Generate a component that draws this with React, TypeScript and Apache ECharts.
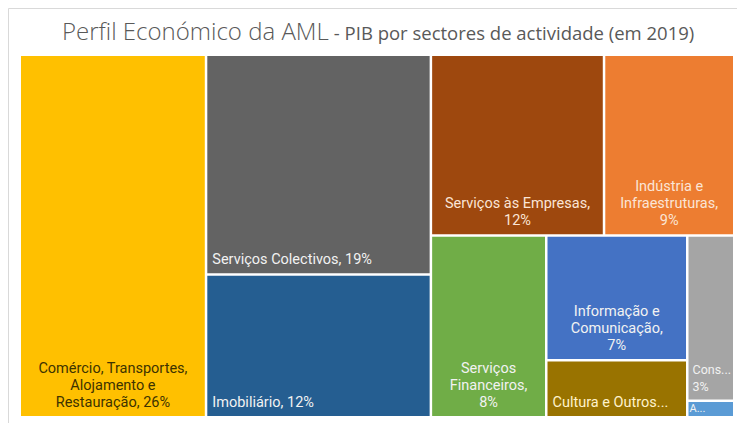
import React, { useEffect, useRef } from "react";
import * as echarts from "echarts";

// Sector names (full) and the labels as displayed in the chart
const sectorNames = [
  "Comércio, Transportes, Alojamento e Restauração",
  "Serviços Colectivos",
  "Imobiliário",
  "Serviços às Empresas",
  "Indústria e Infraestruturas",
  "Serviços Financeiros",
  "Informação e Comunicação",
  "Construção",
  "Cultura e Outros Serviços",
  "Agricultura",
];
const sectorLabels = [
  "Comércio, Transportes,\nAlojamento e\nRestauração, 26%",
  "Serviços Colectivos, 19%",
  "Imobiliário, 12%",
  "Serviços às Empresas,\n12%",
  "Indústria e\nInfraestruturas,\n9%",
  "Serviços\nFinanceiros,\n8%",
  "Informação e\nComunicação,\n7%",
  "Cons...\n3%",
  "Cultura e Outros...",
  "A...",
];
// Share of GDP (%)
const sectorValues = [26.1, 19.1, 12.4, 12.1, 9.1, 8.1, 6.8, 3.0, 3.1, 0.3];
const sectorColors = [
  "#FFC000", "#636363", "#255E91", "#9E480E", "#ED7D31",
  "#70AD47", "#4472C4", "#A5A5A5", "#997300", "#5B9BD5",
];
const labelColors = [
  "#3d3300", "#f2f2f2", "#f2f2f2", "#fbe5d6", "#fbe5d6",
  "#f2f2f2", "#f2f2f2", "#f2f2f2", "#fff2cc", "#f2f2f2",
];
// multi-line labels are centred, single-line labels sit bottom-left
const labelPositions = [
  "insideBottom", "insideBottomLeft", "insideBottomLeft", "insideBottom", "insideBottom",
  "insideBottom", "insideBottom", "insideBottomLeft", "insideBottomLeft", "insideBottomLeft",
];

const TITLE_FONT = "'Open Sans', Lato, sans-serif";
const LABEL_FONT = "Roboto, 'Open Sans', sans-serif";

function leaf(i: number) {
  const tiny = i === 9;
  const narrow = i === 7;
  return {
    name: sectorNames[i],
    value: sectorValues[i],
    itemStyle: { color: sectorColors[i] },
    label: {
      show: true,
      position: labelPositions[i],
      formatter: () => sectorLabels[i],
      color: labelColors[i],
      fontFamily: LABEL_FONT,
      fontSize: tiny ? 11 : narrow ? 12.5 : 14.5,
      lineHeight: tiny ? 13 : 17,
      align: labelPositions[i] === "insideBottom" ? "center" : "left",
      distance: tiny ? 1 : narrow ? 4 : 5,
      padding: 0,
      overflow: "none",
      lineOverflow: "none",
    },
  };
}

export default function App() {
  const ref = useRef<HTMLDivElement>(null);
  useEffect(() => {
    if (!ref.current) return;
    const chart = echarts.init(ref.current, undefined, { renderer: "svg" });
    const data = [
      leaf(0), leaf(1), leaf(2), leaf(3), leaf(4), leaf(5),
      {
        name: "",
        children: [
          { name: "", children: [leaf(6), leaf(8)] },
          { name: "", children: [leaf(7), leaf(9)] },
        ],
      },
    ];
    const lvl = { itemStyle: { borderWidth: 0, gapWidth: 2.5, borderColor: "#ffffff" } };
    chart.setOption({
      animation: false,
      backgroundColor: "#ffffff",
      title: {
        left: 57,
        top: 13,
        text: "{a|Perfil Económico da AML} {b|- PIB por sectores de actividade (em 2019)}",
        textStyle: {
          rich: {
            a: { fontFamily: TITLE_FONT, fontSize: 24, color: "#595959", fontWeight: 300 },
            b: { fontFamily: TITLE_FONT, fontSize: 18.5, color: "#595959", fontWeight: "normal", padding: [4, 0, 0, 0] },
          },
        },
      },
      graphic: [
        {
          type: "rect",
          shape: { x: 8.5, y: 8.5, width: 780, height: 460 },
          style: { fill: "none", stroke: "#d9d9d9", lineWidth: 1 },
          silent: true,
        },
      ],
      series: [
        {
          type: "treemap",
          left: 21,
          top: 56,
          width: 712,
          height: 360,
          roam: false,
          nodeClick: false,
          sort: false,
          squareRatio: 1,
          breadcrumb: { show: false },
          upperLabel: { show: false },
          levels: [lvl, lvl, lvl, lvl],
          data,
        },
      ],
    });
    return () => chart.dispose();
  }, []);
  return (
    <div
      ref={ref}
      style={{ position: "fixed", left: 0, top: 0, width: 737, height: 423 }}
    />
  );
}
